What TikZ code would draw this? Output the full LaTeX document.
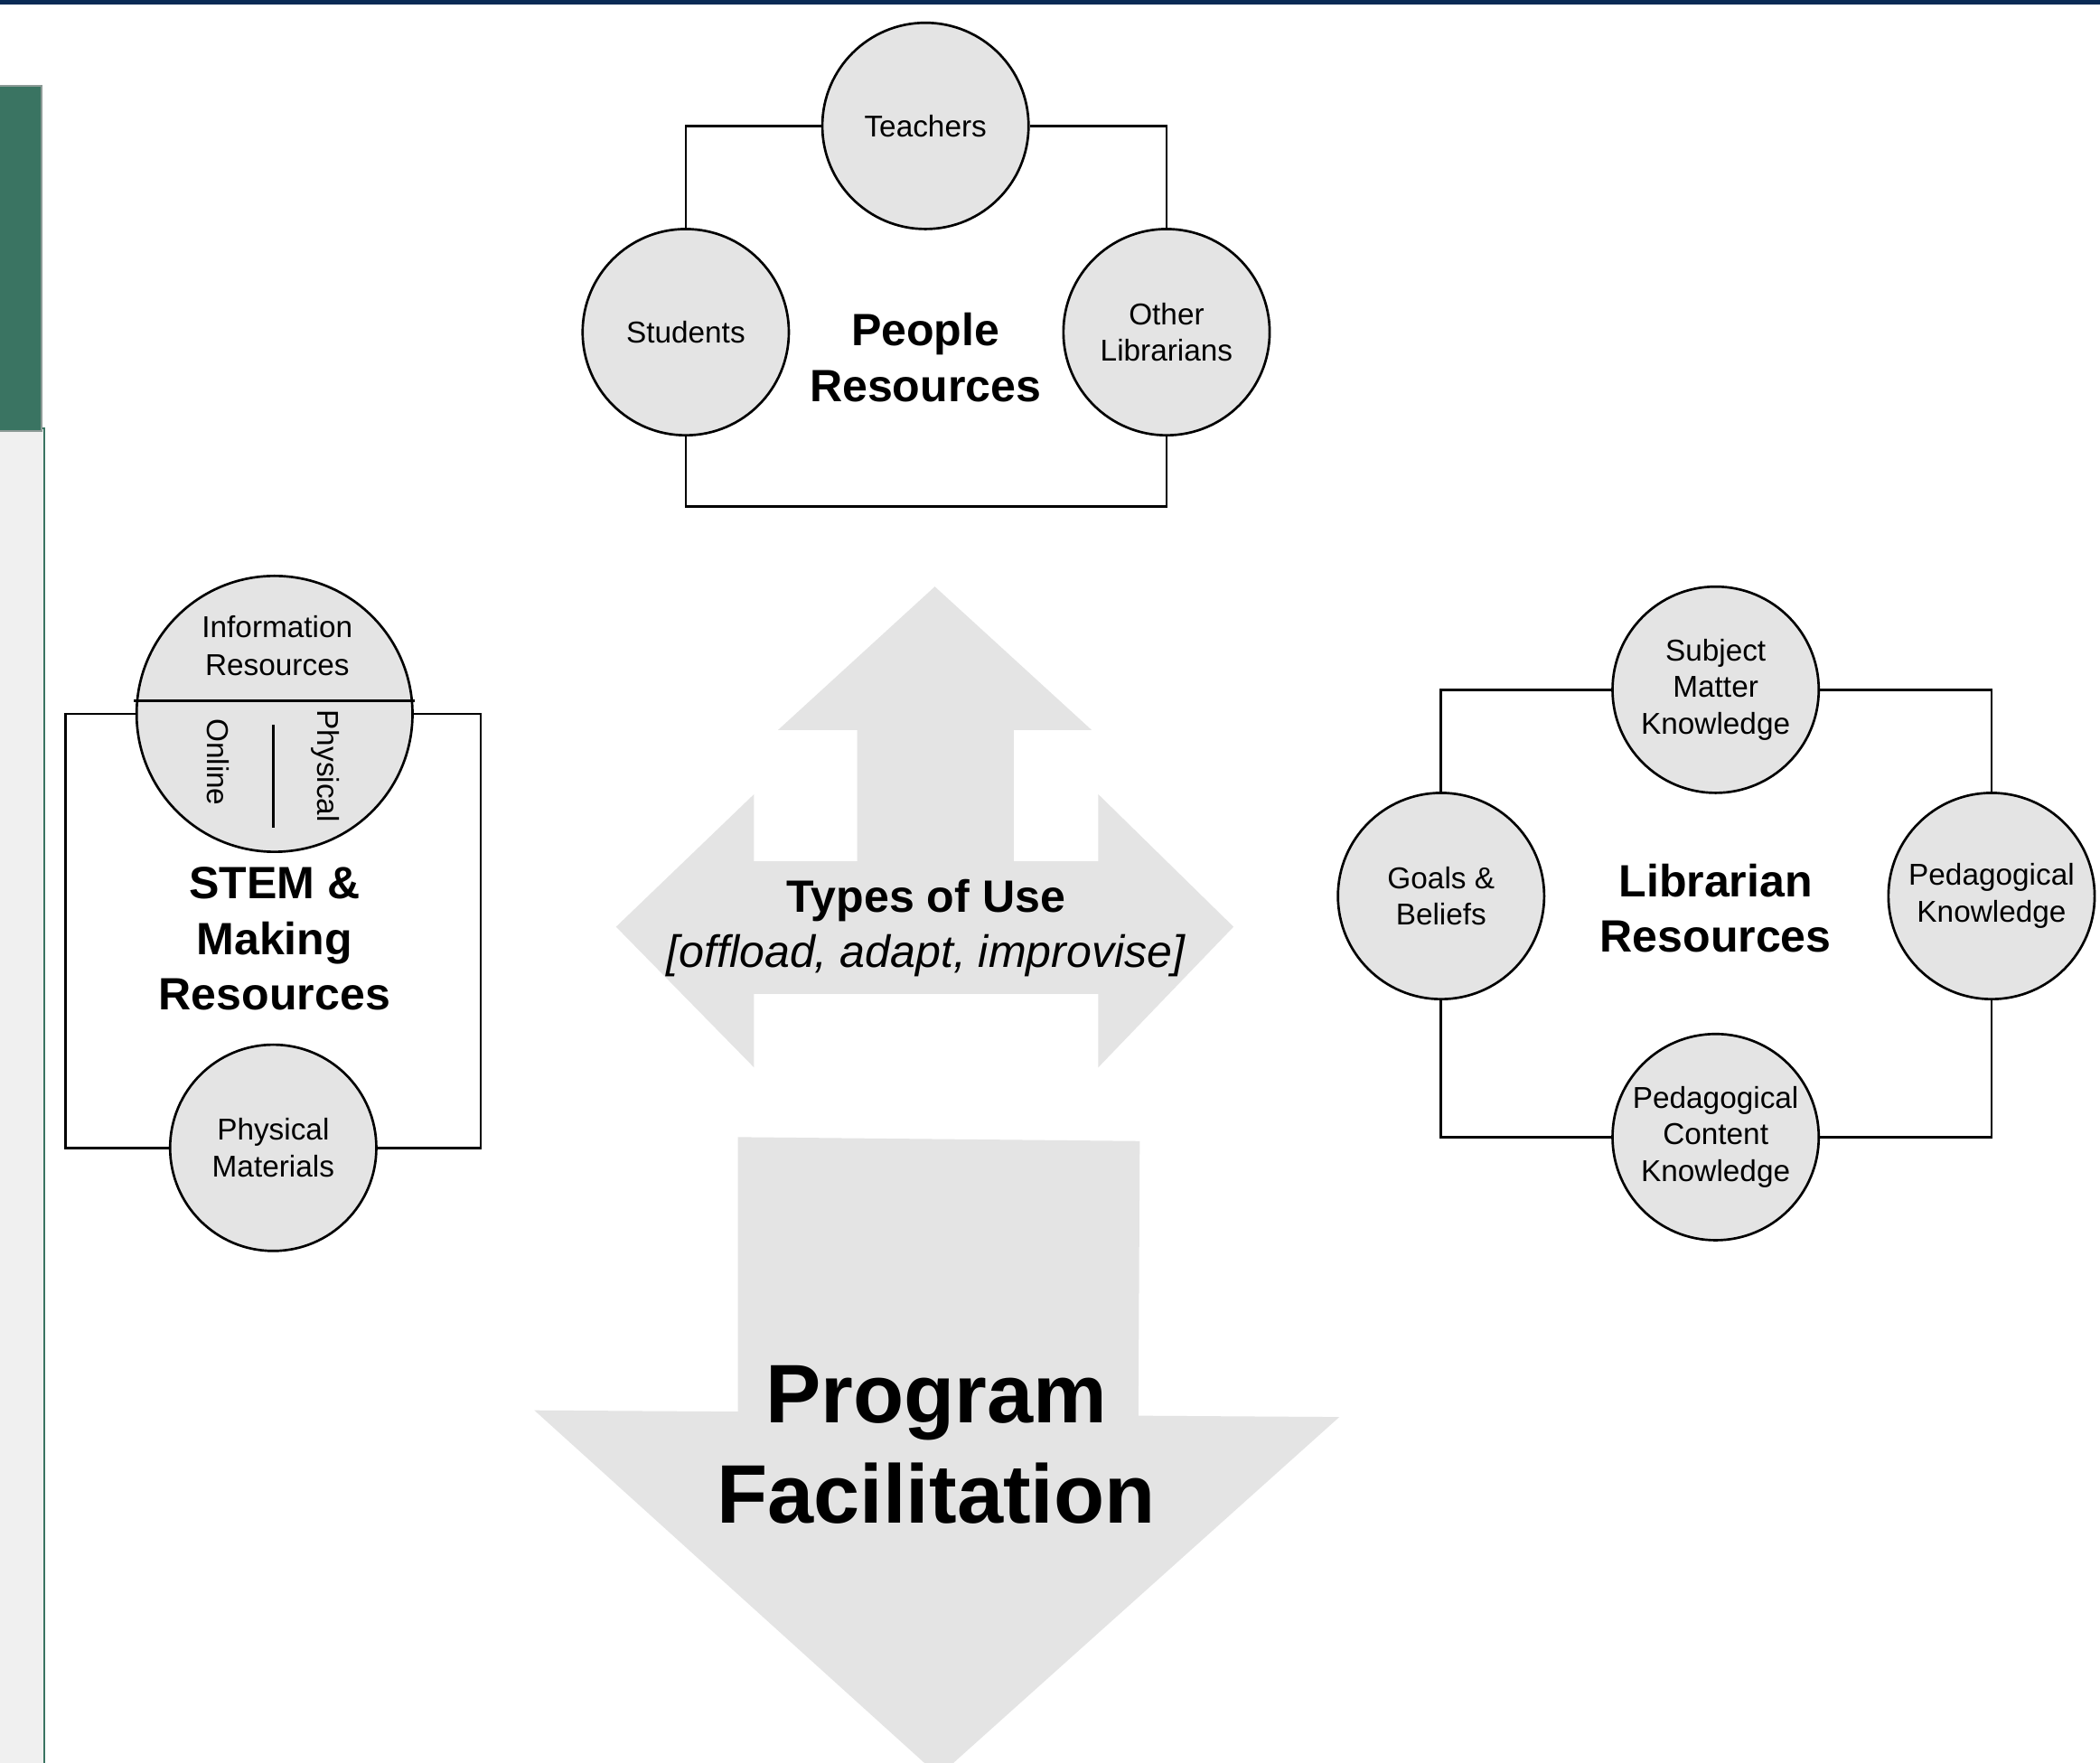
\documentclass[tikz,border=0pt]{standalone}
\usepackage{fontspec}
\setmainfont{Liberation Sans}
\definecolor{cfill}{HTML}{E4E4E4}
\definecolor{afill}{HTML}{E4E4E4}
\definecolor{navy}{HTML}{0A2A55}
\definecolor{sidegreen}{HTML}{3A7462}
\definecolor{sidegray}{HTML}{8D9B97}
\definecolor{panelgray}{HTML}{F0F0F0}
\begin{document}
\begin{tikzpicture}[x=1pt,y=-1pt,
  res/.style={circle,draw=black,line width=1.8pt,fill=cfill,minimum size=154pt,inner sep=0pt,align=center,font=\fontsize{22.5}{27.5}\selectfont},
  conn/.style={line width=1.8pt,draw=black},
  smalllab/.style={align=center,inner sep=0pt,font=\fontsize{22.5}{28}\selectfont},
  biglab/.style={align=center,inner sep=0pt,font=\fontsize{33.8}{41.5}\selectfont\bfseries},
  arrowshape/.style={fill=afill,draw=none}]
\useasboundingbox (0,0) rectangle (1568,1316);
\fill[white] (0,0) rectangle (1568,1316);
% frame decorations
\fill[navy] (0,0) rectangle (1568,3.5);
\draw[fill=panelgray,draw=sidegreen,line width=1.2pt] (-5,320) rectangle (33,1330);
\draw[fill=sidegreen,draw=sidegray,line width=1.5pt] (-5,64) rectangle (31,322);

% Types of Use arrow
\path[arrowshape] (698,438) -- (815,545) -- (757,545) -- (757,643) -- (820,643) -- (820,593)
  -- (921,692) -- (820,797) -- (820,742) -- (563,742) -- (563,797) -- (460,692) -- (563,593)
  -- (563,643) -- (640,643) -- (640,545) -- (581,545) -- cycle;
\node[align=center,inner sep=0pt,font=\fontsize{33.8}{41}\selectfont] (types) at (691.5,693)
  {\textbf{Types of Use}\\\textit{[offload, adapt, improvise]}};

% Program Facilitation arrow
\path[arrowshape] (551,849) -- (851,852) -- (850,1057) -- (1000,1058) -- (701,1326) -- (399,1053) -- (551,1054) -- cycle;
\node[align=center,inner sep=0pt,font=\fontsize{62}{75}\selectfont\bfseries] (prog) at (699,1079) {Program\\Facilitation};

% People Resources
\node[res] (teach) at (691,94) {Teachers};
\node[res] (stud) at (512,248) {Students};
\node[res] (oth) at (871,248) {Other\\Librarians};
\coordinate (pbot) at (691,378);
\draw[conn] (teach.west) -| (stud.north);
\draw[conn] (teach.east) -| (oth.north);
\draw[conn] (stud.south) |- (pbot) -| (oth.south);
\node[biglab] (people) at (691,267) {People\\Resources};

% STEM & Making Resources
\node[res,minimum size=206pt] (info) at (205,533) {};
\coordinate (chl) at (100,523);
\coordinate (chr) at (310,523);
\draw[conn] (chl) -- (chr);
\coordinate (dvt) at (204,541);
\coordinate (dvb) at (204,618);
\draw[conn] (dvt) -- (dvb);
\node[smalllab] (infolab) at (207,482) {Information\\Resources};
\node[smalllab,rotate=-90] (online) at (163,569) {Online};
\node[smalllab,rotate=-90] (physical) at (243,572) {Physical};
\node[res] (phys) at (204,857) {Physical\\Materials};
\coordinate (sl) at (49,700);
\coordinate (sr) at (359,700);
\draw[conn] (info.west) -| (sl) |- (phys.west);
\draw[conn] (info.east) -| (sr) |- (phys.east);
\node[biglab] (stem) at (205,701) {STEM \&\\Making\\Resources};

% Librarian Resources
\node[res] (subj) at (1281,515) {Subject\\Matter\\Knowledge};
\node[res] (goals) at (1076,669) {Goals \&\\Beliefs};
\node[res] (ped) at (1487,669) {Pedagogical\\Knowledge};
\node[res] (pck) at (1281,849) {Pedagogical\\Content\\Knowledge};
\draw[conn] (subj.west) -| (goals.north);
\draw[conn] (subj.east) -| (ped.north);
\draw[conn] (goals.south) |- (pck.west);
\draw[conn] (ped.south) |- (pck.east);
\node[biglab] (lib) at (1281,678) {Librarian\\Resources};
\end{tikzpicture}
\end{document}
